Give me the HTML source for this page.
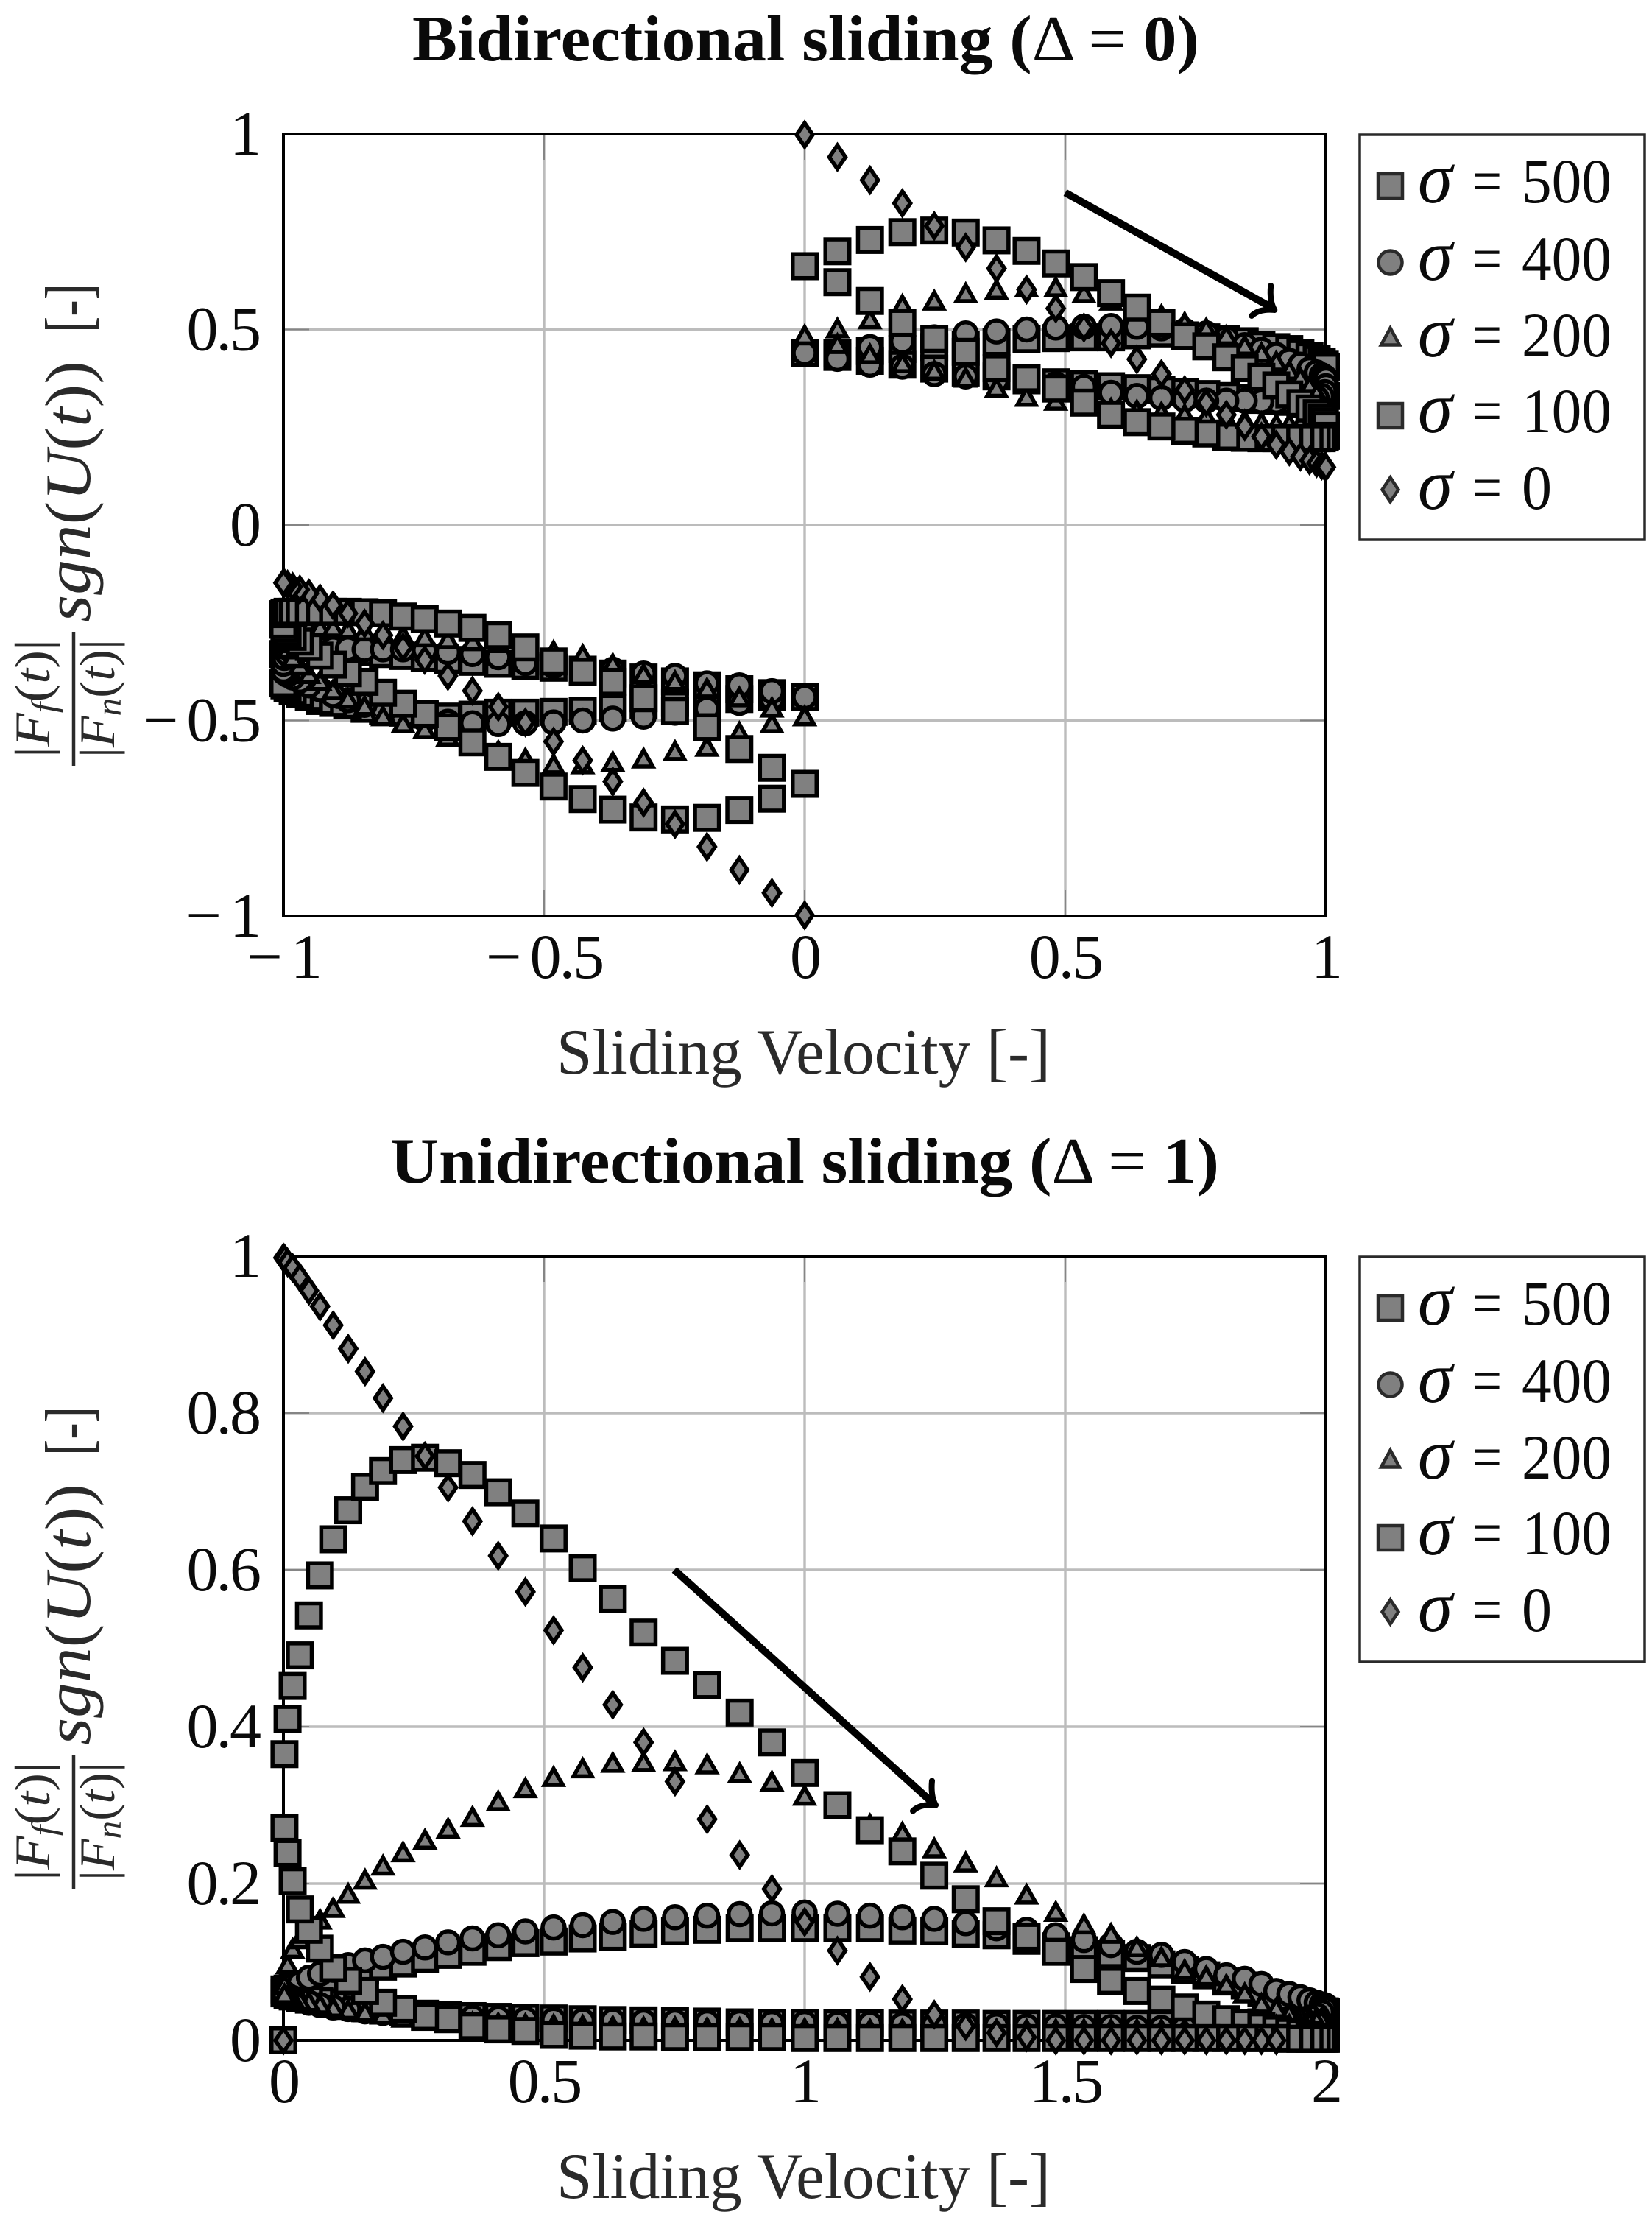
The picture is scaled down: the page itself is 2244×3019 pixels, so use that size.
<!DOCTYPE html>
<html lang="en">
<head>
<meta charset="utf-8">
<title>Friction ratio vs sliding velocity</title>
<style>
html,body{margin:0;padding:0;background:#fff;}
svg{display:block;}
text{font-family:"Liberation Serif","DejaVu Serif",serif;}
.lbl{fill:#2a2a2a;}
.leg{fill:#0a0a0a;font-size:86px;}
.sig{fill:#0a0a0a;font-size:100px;font-style:italic;}
.mk{fill:#808080;stroke:#2a2a2a;stroke-width:4.5;stroke-linejoin:miter;stroke-miterlimit:10;}
</style>
</head>
<body>
<svg id="chart" xmlns="http://www.w3.org/2000/svg" width="2244" height="3019" viewBox="0 0 2244 3019">
<rect x="0" y="0" width="2244" height="3019" fill="#fff"/>

<text x="560" y="82" font-size="88" font-weight="bold" fill="#0a0a0a" textLength="1069" lengthAdjust="spacingAndGlyphs">Bidirectional sliding (<tspan font-weight="normal">Δ = </tspan>0)</text>
<text x="530" y="1606" font-size="88" font-weight="bold" fill="#0a0a0a" textLength="1126" lengthAdjust="spacingAndGlyphs">Unidirectional sliding (<tspan font-weight="normal">Δ = </tspan>1)</text>

<text class="lbl" x="756" y="1458" font-size="88" textLength="671" lengthAdjust="spacingAndGlyphs">Sliding Velocity [-]</text>
<text class="lbl" x="756" y="2985" font-size="88" textLength="671" lengthAdjust="spacingAndGlyphs">Sliding Velocity [-]</text>

<g>
  <text class="lbl" font-size="68" transform="translate(67,1029) rotate(-90)" textLength="161" lengthAdjust="spacingAndGlyphs">|<tspan font-style="italic">F</tspan><tspan font-style="italic" font-size="48" dy="9">f</tspan><tspan dy="-9">(</tspan><tspan font-style="italic">t</tspan>)|</text>
  <line x1="100" y1="858" x2="100" y2="1040" stroke="#2a2a2a" stroke-width="4.5"/>
  <text class="lbl" font-size="68" transform="translate(155,1029) rotate(-90)" textLength="161" lengthAdjust="spacingAndGlyphs">|<tspan font-style="italic">F</tspan><tspan font-style="italic" font-size="48" dy="9">n</tspan><tspan dy="-9">(</tspan><tspan font-style="italic">t</tspan>)|</text>
  <text class="lbl" font-size="88" transform="translate(122,845) rotate(-90)" textLength="355" lengthAdjust="spacingAndGlyphs"><tspan font-style="italic">sgn</tspan>(<tspan font-style="italic">U</tspan>(<tspan font-style="italic">t</tspan>))</text>
  <text class="lbl" font-size="88" transform="translate(122,452) rotate(-90)" textLength="67" lengthAdjust="spacingAndGlyphs">[-]</text>
</g>
<g transform="translate(0,1525)">
  <text class="lbl" font-size="68" transform="translate(67,1029) rotate(-90)" textLength="161" lengthAdjust="spacingAndGlyphs">|<tspan font-style="italic">F</tspan><tspan font-style="italic" font-size="48" dy="9">f</tspan><tspan dy="-9">(</tspan><tspan font-style="italic">t</tspan>)|</text>
  <line x1="100" y1="858" x2="100" y2="1040" stroke="#2a2a2a" stroke-width="4.5"/>
  <text class="lbl" font-size="68" transform="translate(155,1029) rotate(-90)" textLength="161" lengthAdjust="spacingAndGlyphs">|<tspan font-style="italic">F</tspan><tspan font-style="italic" font-size="48" dy="9">n</tspan><tspan dy="-9">(</tspan><tspan font-style="italic">t</tspan>)|</text>
  <text class="lbl" font-size="88" transform="translate(122,845) rotate(-90)" textLength="355" lengthAdjust="spacingAndGlyphs"><tspan font-style="italic">sgn</tspan>(<tspan font-style="italic">U</tspan>(<tspan font-style="italic">t</tspan>))</text>
  <text class="lbl" font-size="88" transform="translate(122,452) rotate(-90)" textLength="67" lengthAdjust="spacingAndGlyphs">[-]</text>
</g>

<g>
  <rect x="1847" y="183" width="387" height="550" fill="#fff" stroke="#2a2a2a" stroke-width="3.5"/>
  <g>
    <rect class="mk" x="1872" y="236" width="33" height="33"/>
    <text class="sig" x="1926" y="275" textLength="47" lengthAdjust="spacingAndGlyphs">σ</text><text class="leg" x="2000" y="275" textLength="40" lengthAdjust="spacingAndGlyphs">=</text><text class="leg" x="2067" y="275" textLength="122" lengthAdjust="spacingAndGlyphs">500</text>
  </g>
  <g>
    <circle class="mk" cx="1888.5" cy="356.5" r="16"/>
    <text class="sig" x="1926" y="380" textLength="47" lengthAdjust="spacingAndGlyphs">σ</text><text class="leg" x="2000" y="380" textLength="40" lengthAdjust="spacingAndGlyphs">=</text><text class="leg" x="2067" y="380" textLength="122" lengthAdjust="spacingAndGlyphs">400</text>
  </g>
  <g>
    <path class="mk" d="M1888.5,445.5 L1901,468.5 L1876,468.5 Z"/>
    <text class="sig" x="1926" y="484" textLength="47" lengthAdjust="spacingAndGlyphs">σ</text><text class="leg" x="2000" y="484" textLength="40" lengthAdjust="spacingAndGlyphs">=</text><text class="leg" x="2067" y="484" textLength="122" lengthAdjust="spacingAndGlyphs">200</text>
  </g>
  <g>
    <rect class="mk" x="1872" y="548" width="33" height="33"/>
    <text class="sig" x="1926" y="587" textLength="47" lengthAdjust="spacingAndGlyphs">σ</text><text class="leg" x="2000" y="587" textLength="40" lengthAdjust="spacingAndGlyphs">=</text><text class="leg" x="2067" y="587" textLength="122" lengthAdjust="spacingAndGlyphs">100</text>
  </g>
  <g>
    <path class="mk" d="M1888.5,648.5 L1899.5,665 L1888.5,681.5 L1877.5,665 Z"/>
    <text class="sig" x="1926" y="691" textLength="47" lengthAdjust="spacingAndGlyphs">σ</text><text class="leg" x="2000" y="691" textLength="40" lengthAdjust="spacingAndGlyphs">=</text><text class="leg" x="2067" y="691" textLength="41" lengthAdjust="spacingAndGlyphs">0</text>
  </g>
</g>
<g transform="translate(0,1524)">
  <rect x="1847" y="183" width="387" height="550" fill="#fff" stroke="#2a2a2a" stroke-width="3.5"/>
  <g>
    <rect class="mk" x="1872" y="236" width="33" height="33"/>
    <text class="sig" x="1926" y="275" textLength="47" lengthAdjust="spacingAndGlyphs">σ</text><text class="leg" x="2000" y="275" textLength="40" lengthAdjust="spacingAndGlyphs">=</text><text class="leg" x="2067" y="275" textLength="122" lengthAdjust="spacingAndGlyphs">500</text>
  </g>
  <g>
    <circle class="mk" cx="1888.5" cy="356.5" r="16"/>
    <text class="sig" x="1926" y="380" textLength="47" lengthAdjust="spacingAndGlyphs">σ</text><text class="leg" x="2000" y="380" textLength="40" lengthAdjust="spacingAndGlyphs">=</text><text class="leg" x="2067" y="380" textLength="122" lengthAdjust="spacingAndGlyphs">400</text>
  </g>
  <g>
    <path class="mk" d="M1888.5,445.5 L1901,468.5 L1876,468.5 Z"/>
    <text class="sig" x="1926" y="484" textLength="47" lengthAdjust="spacingAndGlyphs">σ</text><text class="leg" x="2000" y="484" textLength="40" lengthAdjust="spacingAndGlyphs">=</text><text class="leg" x="2067" y="484" textLength="122" lengthAdjust="spacingAndGlyphs">200</text>
  </g>
  <g>
    <rect class="mk" x="1872" y="548" width="33" height="33"/>
    <text class="sig" x="1926" y="587" textLength="47" lengthAdjust="spacingAndGlyphs">σ</text><text class="leg" x="2000" y="587" textLength="40" lengthAdjust="spacingAndGlyphs">=</text><text class="leg" x="2067" y="587" textLength="122" lengthAdjust="spacingAndGlyphs">100</text>
  </g>
  <g>
    <path class="mk" d="M1888.5,648.5 L1899.5,665 L1888.5,681.5 L1877.5,665 Z"/>
    <text class="sig" x="1926" y="691" textLength="47" lengthAdjust="spacingAndGlyphs">σ</text><text class="leg" x="2000" y="691" textLength="40" lengthAdjust="spacingAndGlyphs">=</text><text class="leg" x="2067" y="691" textLength="41" lengthAdjust="spacingAndGlyphs">0</text>
  </g>
</g>
</svg>
<script>
// ---- Tick values and labels ----
const biXTicks = [-1, -0.5, 0, 0.5, 1];
const biXTickLabels = ['−\u20091', '−\u20090.5', '0', '0.5', '1'];
const biYTicks = [-1, -0.5, 0, 0.5, 1];
const biYTickLabels = ['−\u20091', '−\u20090.5', '0', '0.5', '1'];
const uniXTicks = [0, 0.5, 1, 1.5, 2];
const uniXTickLabels = ['0', '0.5', '1', '1.5', '2'];
const uniYTicks = [0, 0.2, 0.4, 0.6, 0.8, 1];
const uniYTickLabels = ['0', '0.2', '0.4', '0.6', '0.8', '1'];

// ---- Bidirectional sliding: velocity samples ----
const biVelocityRight = [0,.0628,.1253,.1874,.2487,.309,.3681,.4258,.4818,.5358,.5878,.6374,.6845,.729,.7705,.809,.8443,.8763,.9048,.9298,.9511,.9686,.9823,.9921,.998,1];
const biVelocityLeft = [0,-.0628,-.1253,-.1874,-.2487,-.309,-.3681,-.4258,-.4818,-.5358,-.5878,-.6374,-.6845,-.729,-.7705,-.809,-.8443,-.8763,-.9048,-.9298,-.9511,-.9686,-.9823,-.9921,-.998,-1];

// ---- Bidirectional sliding: friction ratio, positive velocity ----
const bi500RightOut = [.44,.44,.445,.45,.455,.46,.468,.475,.478,.48,.48,.485,.49,.485,.48,.475,.47,.46,.455,.45,.44,.432,.425,.418,.41,.405];
const bi500RightBack = [.44,.43,.42,.41,.4,.39,.38,.37,.365,.36,.355,.35,.345,.34,.335,.33,.325,.32,.318,.315,.31,.31,.31,.31,.32,.33];
const bi400RightOut = [.44,.445,.455,.47,.48,.49,.495,.5,.505,.507,.509,.507,.503,.497,.49,.478,.46,.448,.435,.42,.41,.398,.39,.383,.378,.372];
const bi400RightBack = [.44,.425,.41,.405,.386,.38,.37,.365,.36,.353,.338,.33,.325,.32,.318,.318,.318,.316,.316,.316,.318,.32,.325,.33,.34,.355];
const bi200RightOut = [.487,.505,.528,.565,.576,.595,.604,.61,.61,.595,.576,.553,.539,.52,.505,.487,.461,.4425,.42,.397,.379,.357,.338,.316,.3,.285];
const bi200RightBack = [.487,.465,.4385,.416,.397,.379,.353,.33,.32,.31,.3,.295,.29,.285,.28,.275,.27,.265,.26,.26,.26,.26,.26,.265,.27,.28];
const bi100RightOut = [.662,.7,.729,.749,.753,.748,.728,.701,.669,.634,.593,.556,.517,.483,.457,.429,.401,.379,.357,.334,.312,.298,.286,.275,.265,.255];
const bi100RightBack = [.662,.621,.573,.517,.476,.443,.401,.375,.349,.313,.282,.263,.252,.241,.234,.226,.223,.222,.222,.222,.222,.222,.222,.222,.224,.228];
const bi0Right = [.998,.941,.882,.823,.765,.71,.656,.602,.554,.505,.465,.424,.386,.345,.313,.282,.252,.226,.205,.188,.175,.165,.158,.152,.149,.148];

// ---- Bidirectional sliding: friction ratio, negative velocity ----
const bi500LeftOut = [-.44,-.44,-.445,-.45,-.455,-.46,-.468,-.475,-.478,-.48,-.48,-.485,-.49,-.485,-.48,-.475,-.47,-.46,-.455,-.45,-.44,-.432,-.425,-.418,-.41,-.405];
const bi500LeftBack = [-.44,-.43,-.42,-.41,-.4,-.39,-.38,-.37,-.365,-.36,-.355,-.35,-.345,-.34,-.335,-.33,-.325,-.32,-.318,-.315,-.31,-.31,-.31,-.31,-.32,-.33];
const bi400LeftOut = [-.44,-.445,-.455,-.47,-.48,-.49,-.495,-.5,-.505,-.507,-.509,-.507,-.503,-.497,-.49,-.478,-.46,-.448,-.435,-.42,-.41,-.398,-.39,-.383,-.378,-.372];
const bi400LeftBack = [-.44,-.425,-.41,-.405,-.386,-.38,-.37,-.365,-.36,-.353,-.338,-.33,-.325,-.32,-.318,-.318,-.318,-.316,-.316,-.316,-.318,-.32,-.325,-.33,-.34,-.355];
const bi200LeftOut = [-.487,-.505,-.528,-.565,-.576,-.595,-.604,-.61,-.61,-.595,-.576,-.553,-.539,-.52,-.505,-.487,-.461,-.4425,-.42,-.397,-.379,-.357,-.338,-.316,-.3,-.285];
const bi200LeftBack = [-.487,-.465,-.4385,-.416,-.397,-.379,-.353,-.33,-.32,-.31,-.3,-.295,-.29,-.285,-.28,-.275,-.27,-.265,-.26,-.26,-.26,-.26,-.26,-.265,-.27,-.28];
const bi100LeftOut = [-.662,-.7,-.729,-.749,-.753,-.748,-.728,-.701,-.669,-.634,-.593,-.556,-.517,-.483,-.457,-.429,-.401,-.379,-.357,-.334,-.312,-.298,-.286,-.275,-.265,-.255];
const bi100LeftBack = [-.662,-.621,-.573,-.517,-.476,-.443,-.401,-.375,-.349,-.313,-.282,-.263,-.252,-.241,-.234,-.226,-.223,-.222,-.222,-.222,-.222,-.222,-.222,-.222,-.224,-.228];
const bi0Left = [-.998,-.941,-.882,-.823,-.765,-.71,-.656,-.602,-.554,-.505,-.465,-.424,-.386,-.345,-.313,-.282,-.252,-.226,-.205,-.188,-.175,-.165,-.158,-.152,-.149,-.148];

// ---- Unidirectional sliding: velocity samples ----
const uniVelocity = [0,.002,.0079,.0177,.0314,.049,.0702,.0955,.1243,.1566,.191,.2295,.2715,.3159,.3627,.412,.4642,.5183,.5742,.6319,.691,.7513,.8129,.8753,.9372,1,1.0628,1.1253,1.1874,1.2487,1.309,1.3681,1.4258,1.4818,1.5358,1.5878,1.6374,1.6845,1.729,1.7705,1.809,1.8443,1.8763,1.9048,1.9298,1.9511,1.9686,1.9823,1.9921,1.998,2];

// ---- Unidirectional sliding: friction ratio ----
const uni500Up = [0,.065,.066,.067,.069,.072,.075,.079,.084,.089,.094,.098,.104,.109,.113,.119,.124,.126,.13,.132,.136,.139,.141,.143,.143,.143,.143,.143,.14,.139,.136,.134,.127,.12,.115,.11,.105,.097,.09,.083,.075,.07,.06,.055,.05,.045,.042,.04,.038,.037,.036];
const uni500Down = [0,.06,.058,.056,.054,.052,.05,.047,.044,.041,.038,.036,.034,.032,.031,.03,.029,.028,.027,.026,.0255,.025,.024,.023,.0225,.0225,.022,.022,.0215,.0215,.0215,.021,.021,.021,.021,.021,.021,.021,.021,.021,.021,.022,.023,.024,.025,.027,.029,.031,.033,.035,.036];
const uni400Up = [0,.065,.067,.07,.073,.08,.085,.09,.096,.102,.1065,.113,.1185,.125,.13,.134,.139,.144,.147,.151,.155,.157,.159,.161,.162,.163,.1615,.159,.157,.155,.1495,.143,.141,.134,.128,.1215,.113,.109,.1,.091,.083,.0785,.072,.063,.059,.055,.051,.048,.046,.045,.044];
const uni400Down = [0,.06,.057,.054,.051,.048,.045,.042,.04,.037,.035,.033,.031,.03,.029,.028,.027,.026,.025,.025,.024,.024,.023,.023,.022,.022,.021,.021,.02,.02,.019,.019,.018,.018,.017,.017,.016,.016,.016,.017,.018,.02,.021,.022,.024,.026,.029,.032,.036,.04,.044];
const uni200Up = [0,.072,.098,.118,.13,.142,.155,.17,.188,.206,.224,.241,.257,.271,.286,.306,.3226,.337,.348,.355,.356,.357,.353,.342,.331,.313,.298,.2765,.266,.246,.228,.209,.187,.165,.149,.137,.12,.107,.091,.083,.072,.061,.048,.042,.035,.032,.03,.03,.03,.03,.03];
const uni200Down = [0,.06,.058,.055,.052,.05,.047,.043,.04,.037,.034,.03,.028,.026,.024,.023,.022,.021,.02,.019,.018,.018,.017,.017,.016,.016,.016,.015,.015,.015,.015,.015,.015,.015,.015,.015,.015,.015,.016,.016,.017,.018,.019,.02,.021,.022,.024,.026,.027,.029,.03];
const uni100Up = [0,.365,.41,.452,.491,.542,.593,.639,.676,.706,.726,.74,.743,.736,.721,.699,.672,.64,.602,.563,.52,.484,.453,.418,.38,.341,.3,.268,.241,.21,.18,.152,.132,.113,.091,.076,.063,.052,.042,.033,.027,.022,.018,.014,.011,.009,.007,.005,.004,.003,.003];
const uni100Down = [0,.271,.239,.203,.167,.141,.117,.092,.076,.063,.048,.04,.03,.027,.018,.014,.012,.007,.006,.005,.005,.004,.004,.004,.004,.003,.003,.003,.003,.003,.003,.003,.003,.003,.003,.003,.003,.003,.003,.003,.003,.003,.003,.003,.002,.002,.002,.002,.002,.002,.002];
const uni0Up = [.998,.997,.992,.985,.973,.956,.936,.912,.882,.853,.819,.783,.745,.705,.662,.618,.572,.523,.4755,.428,.38,.33,.282,.2365,.193,.151,.1145,.081,.0526,.033,.018,.0096,.004,0,0,0,0,0,0,0,0,0,0,0];
const uni0Down = [0];

// ---- Annotation arrows (data coordinates: x, y) ----
const biArrowStart = [0.5, 0.85];
const biArrowEnd = [0.9, 0.55];
const uniArrowStart = [0.75, 0.6];
const uniArrowEnd = [1.25, 0.3];

const SVG_NS = 'http://www.w3.org/2000/svg';
const svg = document.getElementById('chart');

function makeScale(dMin, dMax, pMin, pMax) {
  return function (v) { return pMin + (v - dMin) / (dMax - dMin) * (pMax - pMin); };
}
const biX = makeScale(-1, 1, 385, 1801);
const biY = makeScale(-1, 1, 1244, 182);
const uniX = makeScale(0, 2, 385, 1801);
const uniY = makeScale(0, 1, 2771, 1706);

function make(parent, tag, attrs) {
  const el = document.createElementNS(SVG_NS, tag);
  for (const k in attrs) el.setAttribute(k, attrs[k]);
  parent.appendChild(el);
  return el;
}

function drawAxes(prefix, xScale, yScale, xTicks, xLabels, yTicks, yLabels) {
  const left = xScale(xTicks[0]);
  const right = xScale(xTicks[xTicks.length - 1]);
  const top = yScale(yTicks[yTicks.indexOf(1)]);
  const bottom = yScale(yTicks.indexOf(-1) >= 0 ? -1 : 0);
  const g = make(svg, 'g', {});
  
  

  xTicks.slice(1, -1).forEach(function (t) {
    const px = xScale(t);
    const grid = make(g, 'line', { x1: px, y1: top, x2: px, y2: bottom, stroke: '#bcbcbc', 'stroke-width': 3.4 });
    
    
    make(g, 'line', { x1: px, y1: top, x2: px, y2: top + 35, stroke: '#858585', 'stroke-width': 2 });
    make(g, 'line', { x1: px, y1: bottom, x2: px, y2: bottom - 35, stroke: '#858585', 'stroke-width': 2 });
  });
  yTicks.slice(1, -1).forEach(function (t) {
    const py = yScale(t);
    const grid = make(g, 'line', { x1: left, y1: py, x2: right, y2: py, stroke: '#bcbcbc', 'stroke-width': 3.4 });
    
    
    make(g, 'line', { x1: left, y1: py, x2: left + 35, y2: py, stroke: '#858585', 'stroke-width': 2 });
    make(g, 'line', { x1: right, y1: py, x2: right - 35, y2: py, stroke: '#858585', 'stroke-width': 2 });
  });

  const frame = make(g, 'rect', { x: left, y: top, width: right - left, height: bottom - top, fill: 'none', stroke: '#000', 'stroke-width': 4 });
  
  

  xTicks.forEach(function (t, i) {
    const label = make(g, 'text', { x: xScale(t), y: bottom + 84, 'font-size': 86, 'text-anchor': 'middle', fill: '#0a0a0a', 'letter-spacing': -3 });
    
    
    label.textContent = xLabels[i];
  });
  yTicks.forEach(function (t, i) {
    const label = make(g, 'text', { x: 352, y: yScale(t) + 28, 'font-size': 86, 'text-anchor': 'end', fill: '#0a0a0a', 'letter-spacing': -3 });
    
    
    label.textContent = yLabels[i];
  });
}

function markSquare(g, x, y) { return make(g, 'rect', { x: x - 16.25, y: y - 16.25, width: 32.5, height: 32.5 }); }
function markCircle(g, x, y) { return make(g, 'circle', { cx: x, cy: y, r: 15 }); }
function markTriangle(g, x, y) { return make(g, 'path', { d: 'M' + x + ',' + (y - 10) + 'L' + (x + 12.5) + ',' + (y + 12) + 'L' + (x - 12.5) + ',' + (y + 12) + 'Z' }); }
function markDiamond(g, x, y) { return make(g, 'path', { d: 'M' + x + ',' + (y - 16) + 'L' + (x + 11) + ',' + y + 'L' + x + ',' + (y + 16) + 'L' + (x - 11) + ',' + y + 'Z' }); }

function startSeries(name) {
  const g = make(svg, 'g', { fill: '#808080', stroke: '#000', 'stroke-width': 5.5, 'stroke-miterlimit': 10 });
  
  
  return g;
}
function forward(g, shape, xs, ys, xScale, yScale) {
  for (let i = 0; i < ys.length; i++) {
    const m = shape(g, xScale(xs[i]), yScale(ys[i]));
    
    
  }
}
function backward(g, shape, xs, ys, xScale, yScale) {
  for (let i = ys.length - 1; i >= 0; i--) {
    const m = shape(g, xScale(xs[i]), yScale(ys[i]));
    
    
  }
}
function biSeries(name, shape, rOut, rBack, lOut, lBack) {
  const g = startSeries(name);
  forward(g, shape, biVelocityRight, rOut, biX, biY);
  if (rBack) backward(g, shape, biVelocityRight, rBack, biX, biY);
  forward(g, shape, biVelocityLeft, lOut, biX, biY);
  if (lBack) backward(g, shape, biVelocityLeft, lBack, biX, biY);
}
function uniSeries(name, shape, up, down) {
  const g = startSeries(name);
  forward(g, shape, uniVelocity, up, uniX, uniY);
  backward(g, shape, uniVelocity, down, uniX, uniY);
}
function drawArrow(name, xScale, yScale, start, end) {
  const x1 = xScale(start[0]), y1 = yScale(start[1]);
  const x2 = xScale(end[0]), y2 = yScale(end[1]);
  const g = make(svg, 'g', { fill: 'none', stroke: '#000', 'stroke-width': 10, 'stroke-linecap': 'round' });
  
  
  make(g, 'line', { x1: x1, y1: y1, x2: x2 - 4, y2: y2 - 4, 'stroke-linecap': 'butt' });
  make(g, 'path', { d: 'M' + (x2 - 4) + ',' + (y2 - 33) + 'Q' + (x2 - 6) + ',' + (y2 - 12) + ' ' + (x2 + 1) + ',' + y2, 'stroke-width': 8 });
  make(g, 'path', { d: 'M' + (x2 - 30) + ',' + (y2 + 8) + 'Q' + (x2 - 20) + ',' + (y2 - 2) + ' ' + (x2 + 1) + ',' + y2, 'stroke-width': 8 });
}

drawAxes('bidirectional', biX, biY, biXTicks, biXTickLabels, biYTicks, biYTickLabels);
drawAxes('unidirectional', uniX, uniY, uniXTicks, uniXTickLabels, uniYTicks, uniYTickLabels);

biSeries('bi-series-sigma-500', markSquare, bi500RightOut, bi500RightBack, bi500LeftOut, bi500LeftBack);
biSeries('bi-series-sigma-400', markCircle, bi400RightOut, bi400RightBack, bi400LeftOut, bi400LeftBack);
biSeries('bi-series-sigma-200', markTriangle, bi200RightOut, bi200RightBack, bi200LeftOut, bi200LeftBack);
biSeries('bi-series-sigma-100', markSquare, bi100RightOut, bi100RightBack, bi100LeftOut, bi100LeftBack);
biSeries('bi-series-sigma-0', markDiamond, bi0Right, null, bi0Left, null);
drawArrow('bi-trend-arrow', biX, biY, biArrowStart, biArrowEnd);

uniSeries('uni-series-sigma-500', markSquare, uni500Up, uni500Down);
uniSeries('uni-series-sigma-400', markCircle, uni400Up, uni400Down);
uniSeries('uni-series-sigma-200', markTriangle, uni200Up, uni200Down);
uniSeries('uni-series-sigma-100', markSquare, uni100Up, uni100Down);
uniSeries('uni-series-sigma-0', markDiamond, uni0Up, uni0Down);
drawArrow('uni-trend-arrow', uniX, uniY, uniArrowStart, uniArrowEnd);
</script>
</body>
</html>
